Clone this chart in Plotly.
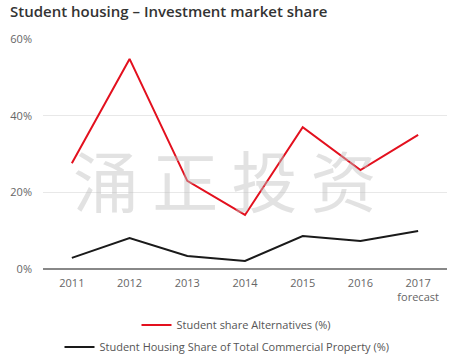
import plotly.graph_objects as go

years = ["2011", "2012", "2013", "2014", "2015", "2016", "2017<br>forecast"]
alt_share = [27.6, 54.8, 23.0, 14.1, 37.0, 25.8, 35.0]
total_share = [2.9, 8.1, 3.4, 2.1, 8.6, 7.3, 9.9]
y_ticks = [0, 20, 40, 60]
y_tick_labels = ["0%", "20%", "40%", "60%"]

FONT = "Open Sans"
W, H = 456, 362
PL, PR, PT, PB = 43, 447, 39, 269
PW, PH = PR - PL, PB - PT

def px_x(px):
    return (px - PL) / PW

def px_y(py):
    return (PB - py) / PH

fig = go.Figure()
fig.add_trace(go.Scatter(
    x=years, y=alt_share, mode="lines", name="Student share Alternatives (%)",
    line=dict(color="#e3101e", width=2), legend="legend", showlegend=True))
fig.add_trace(go.Scatter(
    x=years, y=total_share, mode="lines",
    name="Student Housing Share of Total Commercial Property (%)",
    line=dict(color="#1a1a1a", width=2), legend="legend2", showlegend=True))

# watermark
fig.add_annotation(
    text="涌\u2009正\u2009投\u2009资", xref="paper", yref="paper",
    x=px_x(225), y=px_y(178), xanchor="center", yanchor="middle",
    showarrow=False,
    font=dict(family="Noto Sans CJK SC", size=66, color="rgba(190,190,190,0.45)"))

# title
fig.add_annotation(
    text="Student housing – Investment market share", xref="paper", yref="paper",
    x=px_x(8), y=px_y(11), xanchor="left", yanchor="middle", showarrow=False,
    font=dict(family=FONT, size=15, color="#333", weight=600))

fig.update_layout(
    width=W, height=H,
    showlegend=True,
    margin=dict(l=PL, r=W - PR, t=PT, b=H - PB, autoexpand=False),
    paper_bgcolor="white", plot_bgcolor="white",
    font=dict(family=FONT, size=11, color="#666"),
    xaxis=dict(range=[-0.5, 6.5], showgrid=False, showline=False, ticks="",
               zeroline=False, tickangle=0, ticklabelstandoff=6,
               tickfont=dict(size=11, color="#666")),
    yaxis=dict(range=[0, 60], tickvals=y_ticks, ticktext=y_tick_labels,
               showgrid=True, gridcolor="#e8e8e8", gridwidth=1,
               zeroline=True, zerolinecolor="#888", zerolinewidth=1.5,
               showline=False, ticks="", ticklabelstandoff=10,
               tickfont=dict(size=11, color="#666")),
    legend=dict(orientation="h", x=px_x(236), xanchor="center",
                y=px_y(325), yanchor="middle", itemwidth=30,
                font=dict(size=11, color="#555"), bgcolor="rgba(0,0,0,0)"),
    legend2=dict(orientation="h", x=px_x(227), xanchor="center",
                 y=px_y(347), yanchor="middle", itemwidth=30,
                 font=dict(size=11, color="#555"), bgcolor="rgba(0,0,0,0)"),
)

fig.write_html(
    "out.html",
    config={"displayModeBar": False},
    post_script="document.body.style.margin='0';document.body.style.overflow='hidden';",
)
